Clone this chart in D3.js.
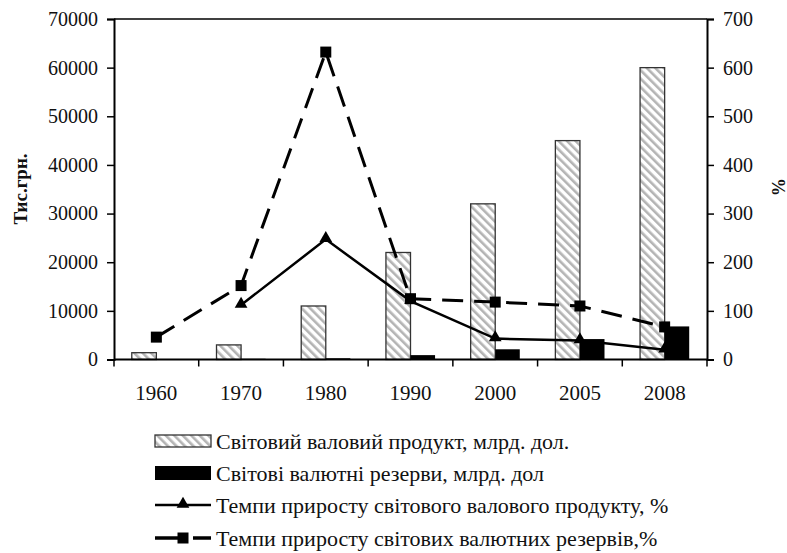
<!DOCTYPE html>
<html lang="uk">
  <head>
    <meta charset="utf-8">
    <title>Світовий валовий продукт і валютні резерви</title>
    <script src="https://cdn.jsdelivr.net/npm/d3@7"></script>
    <style>
      body { margin: 0; background: #fff; }
      text { font-family: "Liberation Serif", "Times New Roman", serif; fill: #111; }
    </style>
  </head>
  <body>
    <script>
      var years = ["1960", "1970", "1980", "1990", "2000", "2005", "2008"];
      var gdp = [1400, 3000, 11000, 22000, 32000, 45000, 60000];
      var reserves = [100, 150, 250, 900, 2100, 4200, 6800];
      var gdpGrowth = [null, 112, 247, 120, 43, 39, 20];
      var resGrowth = [46, 152, 632, 125, 118, 110, 67];
      var leftTicks = [0, 10000, 20000, 30000, 40000, 50000, 60000, 70000];
      var rightTicks = [0, 100, 200, 300, 400, 500, 600, 700];
      var legendLabels = [
        "Світовий валовий продукт, млрд. дол.",
        "Світові валютні резерви, млрд. дол",
        "Темпи приросту світового валового продукту, %",
        "Темпи приросту світових валютних резервів,%"
      ];

      var w = 787, h = 553;
      var plotLeft = 114, plotRight = 707, plotTop = 19, plotBottom = 359.5;

      var svg = d3.select("body").append("svg")
                  .attr("width", w)
                  .attr("height", h);

      // hatch for the GDP bars
      var pat = svg.append("defs").append("pattern")
                   .attr("id", "hatch")
                   .attr("patternUnits", "userSpaceOnUse")
                   .attr("width", 6).attr("height", 6)
                   .attr("patternTransform", "rotate(-45)");
      pat.append("rect").attr("width", 6).attr("height", 6).attr("fill", "#fff");
      pat.append("rect").attr("x", 0).attr("width", 2.6).attr("height", 6).attr("fill", "#b4b4b4");

      var xScale = d3.scaleBand()
                     .domain(years)
                     .range([plotLeft, plotRight])
                     .padding(0);

      var yLeft = d3.scaleLinear().domain([0, 70000]).range([plotBottom, plotTop]);
      var yRight = d3.scaleLinear().domain([0, 700]).range([plotBottom, plotTop]);

      var bw = xScale.bandwidth() * 0.29;
      var center = function (d) { return xScale(d) + xScale.bandwidth() / 2; };

      // bars
      svg.selectAll("rect.gdp")
         .data(years)
         .enter()
         .append("rect")
         .attr("class", "gdp")
         .attr("x", function (d) { return center(d) - bw; })
         .attr("y", function (d, i) { return yLeft(gdp[i]); })
         .attr("width", bw)
         .attr("height", function (d, i) { return plotBottom - yLeft(gdp[i]); })
         .attr("fill", "url(#hatch)")
         .attr("stroke", "#333")
         .attr("stroke-width", 1.3);

      svg.selectAll("rect.res")
         .data(years)
         .enter()
         .append("rect")
         .attr("class", "res")
         .attr("x", function (d) { return center(d); })
         .attr("y", function (d, i) { return yLeft(reserves[i]); })
         .attr("width", bw)
         .attr("height", function (d, i) { return plotBottom - yLeft(reserves[i]); })
         .attr("fill", "#000");

      // frame + axes
      svg.append("line").attr("x1", plotLeft).attr("x2", plotRight).attr("y1", plotTop).attr("y2", plotTop)
         .attr("stroke", "#000").attr("stroke-width", 1.5);

      var xAxis = svg.append("g").attr("transform", "translate(0," + plotBottom + ")");
      xAxis.append("line").attr("x1", plotLeft).attr("x2", plotRight)
           .attr("stroke", "#000").attr("stroke-width", 2);
      var bounds = years.map(function (d) { return xScale(d); }).concat([plotRight]);
      xAxis.selectAll("line.tick")
           .data(bounds)
           .enter()
           .append("line")
           .attr("class", "tick")
           .attr("x1", function (d) { return d; }).attr("x2", function (d) { return d; })
           .attr("y1", 0).attr("y2", 7)
           .attr("stroke", "#000").attr("stroke-width", 1.5);
      xAxis.selectAll("text")
           .data(years)
           .enter()
           .append("text")
           .attr("x", center)
           .attr("y", 40)
           .attr("text-anchor", "middle")
           .attr("font-size", "21px")
           .text(function (d) { return d; });

      var axL = d3.axisLeft(yLeft).tickValues(leftTicks).tickSize(7).tickPadding(9).tickFormat(d3.format("d"));
      var gL = svg.append("g").attr("transform", "translate(" + plotLeft + ",0)").call(axL);
      var axR = d3.axisRight(yRight).tickValues(rightTicks).tickSize(7).tickPadding(9).tickFormat(d3.format("d"));
      var gR = svg.append("g").attr("transform", "translate(" + plotRight + ",0)").call(axR);
      [gL, gR].forEach(function (g) {
        g.select(".domain").attr("stroke", "#000").attr("stroke-width", 2);
        g.selectAll(".tick line").attr("stroke", "#000").attr("stroke-width", 1.5);
        g.selectAll(".tick text")
         .attr("font-family", "Liberation Serif, serif")
         .attr("font-size", "20px")
         .attr("fill", "#111");
      });

      svg.append("text")
         .attr("transform", "translate(27,189) rotate(-90)")
         .attr("text-anchor", "middle")
         .attr("font-size", "19px")
         .attr("font-weight", "bold")
         .text("Тис.грн.");

      svg.append("text")
         .attr("transform", "translate(772,187) rotate(90)")
         .attr("text-anchor", "middle")
         .attr("font-size", "18px")
         .attr("font-weight", "bold")
         .text("%");

      // lines
      var lineGen = d3.line()
                      .defined(function (d) { return d.v != null; })
                      .x(function (d) { return center(d.year); })
                      .y(function (d) { return yRight(d.v); });

      var gdpPts = years.map(function (d, i) { return { year: d, v: gdpGrowth[i] }; });
      var resPts = years.map(function (d, i) { return { year: d, v: resGrowth[i] }; });

      svg.append("path")
         .datum(resPts)
         .attr("d", lineGen)
         .attr("fill", "none")
         .attr("stroke", "#000")
         .attr("stroke-width", 3)
         .attr("stroke-dasharray", "21,11");

      svg.append("path")
         .datum(gdpPts)
         .attr("d", lineGen)
         .attr("fill", "none")
         .attr("stroke", "#000")
         .attr("stroke-width", 2.5);

      svg.selectAll("rect.sq")
         .data(resPts)
         .enter()
         .append("rect")
         .attr("class", "sq")
         .attr("x", function (d) { return center(d.year) - 5.5; })
         .attr("y", function (d) { return yRight(d.v) - 5.5; })
         .attr("width", 11).attr("height", 11)
         .attr("fill", "#000");

      var tri = d3.symbol().type(d3.symbolTriangle).size(70);
      svg.selectAll("path.tri")
         .data(gdpPts.filter(function (d) { return d.v != null; }))
         .enter()
         .append("path")
         .attr("class", "tri")
         .attr("d", tri)
         .attr("transform", function (d) { return "translate(" + center(d.year) + "," + (yRight(d.v) - 1) + ")"; })
         .attr("fill", "#000");

      // legend
      var lx = 155, lw = 56, rows = [441, 473, 505, 538];
      var leg = svg.append("g");
      leg.append("rect").attr("x", lx).attr("y", rows[0] - 6).attr("width", lw).attr("height", 12)
         .attr("fill", "url(#hatch)").attr("stroke", "#333").attr("stroke-width", 1.3);
      leg.append("rect").attr("x", lx).attr("y", rows[1] - 7).attr("width", lw).attr("height", 14)
         .attr("fill", "#000");
      leg.append("line").attr("x1", lx).attr("x2", lx + lw).attr("y1", rows[2]).attr("y2", rows[2])
         .attr("stroke", "#000").attr("stroke-width", 2.5);
      leg.append("path").attr("d", tri)
         .attr("transform", "translate(" + (lx + lw / 2) + "," + (rows[2] - 1) + ")");
      leg.append("line").attr("x1", lx).attr("x2", lx + lw).attr("y1", rows[3]).attr("y2", rows[3])
         .attr("stroke", "#000").attr("stroke-width", 3.5).attr("stroke-dasharray", "28,10,18");
      leg.append("rect").attr("x", lx + lw / 2 - 5.5).attr("y", rows[3] - 5.5)
         .attr("width", 11).attr("height", 11).attr("fill", "#000");
      leg.selectAll("text")
         .data(legendLabels)
         .enter()
         .append("text")
         .attr("x", lx + lw + 5)
         .attr("y", function (d, i) { return rows[i]; })
         .attr("dy", "0.35em")
         .attr("font-size", "22px")
         .text(function (d) { return d; });
    </script>
  </body>
</html>
